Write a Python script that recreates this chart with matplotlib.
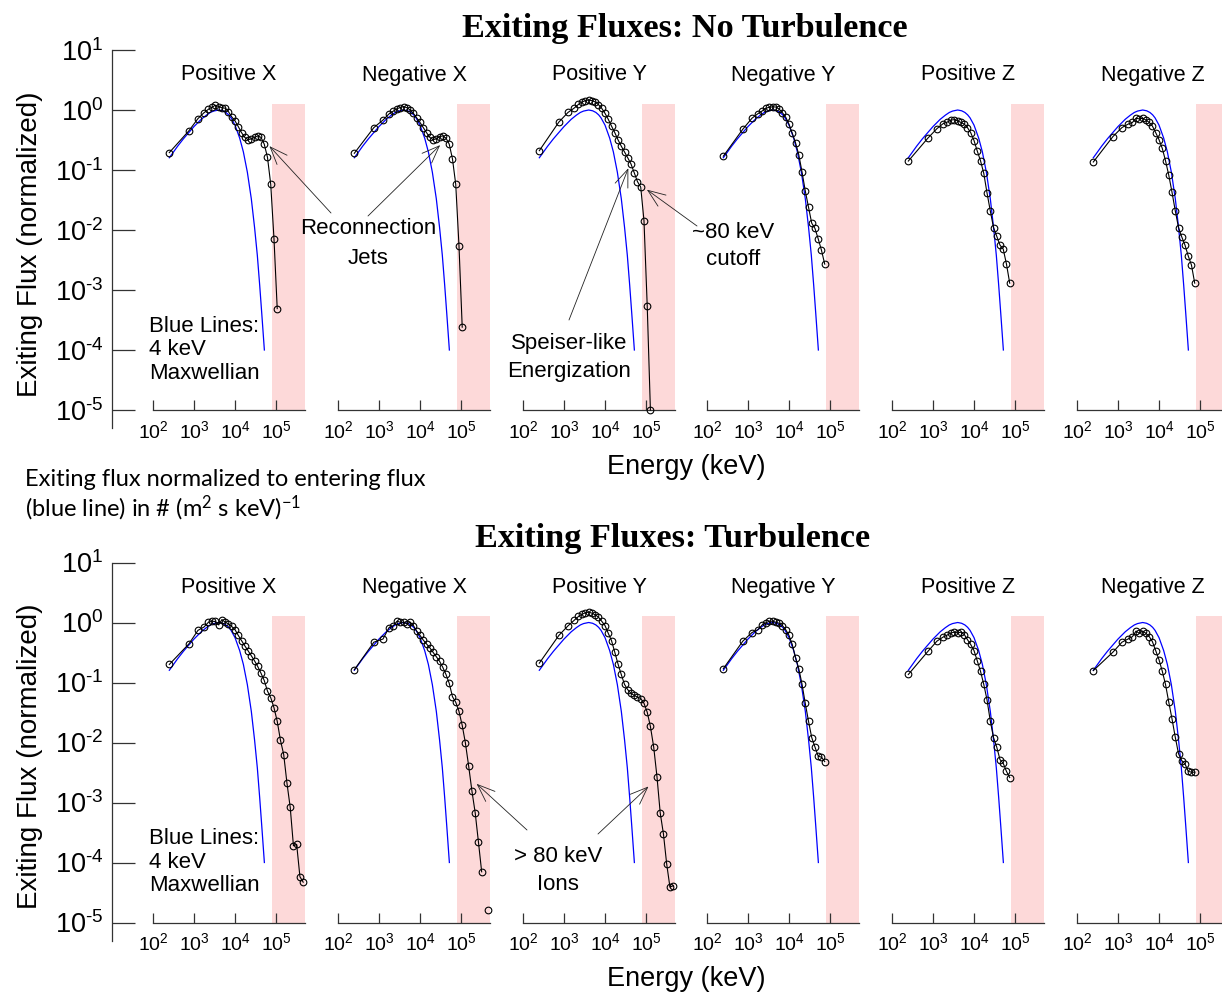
import matplotlib
matplotlib.use("Agg")
import matplotlib.pyplot as plt
from matplotlib.ticker import NullLocator

plt.rcParams['font.family'] = ['Liberation Sans', 'DejaVu Sans']
plt.rcParams['mathtext.default'] = 'regular'

# ---- data ---------------------------------------------------------------
# energy bins shared by every panel (eV, plotted against the keV axis)
energy_bins = [250, 750, 1250, 1750, 2250, 2750, 3300, 4000, 4800, 5800,
               6900, 8300, 10000, 12000, 14400, 17300, 20700, 24900, 29900,
               35800, 43000, 51600, 61900, 74300, 89200, 107000, 128000,
               154000, 185000, 222000, 266000, 319000, 383000, 460000]

# entering 4 keV Maxwellian (blue line)
maxwell_e = [250, 300, 400, 550, 700, 1000, 1500, 2000, 2500, 3000, 4000,
             5000, 6000, 7000, 8000, 10000, 13000, 16000, 20000, 25000,
             30000, 35000, 40000, 45000, 52000]
maxwell_f = [0.16, 0.19, 0.25, 0.33, 0.40, 0.53, 0.70, 0.82, 0.91, 0.96, 1.0,
             0.97, 0.91, 0.83, 0.74, 0.56, 0.34, 0.20, 0.092, 0.033,
             0.011, 0.0038, 0.0012, 0.0004, 0.0001]

panel_names = ['Positive X', 'Negative X', 'Positive Y',
               'Negative Y', 'Positive Z', 'Negative Z']

# exiting fluxes, no turbulence
nt_pos_x = [0.195, 0.45, 0.72, 0.90, 1.03, 1.11, 1.2, 1.14, 1.09, 1.07, 0.94,
            0.77, 0.66, 0.53, 0.42, 0.35, 0.32, 0.33, 0.35, 0.37, 0.35, 0.27,
            0.163, 0.058, 0.0072, 0.00049]
nt_neg_x = [0.19, 0.51, 0.68, 0.86, 0.96, 1.05, 1.1, 1.14, 1.09, 1.0, 0.88,
            0.74, 0.62, 0.51, 0.42, 0.35, 0.32, 0.33, 0.36, 0.37, 0.34, 0.27,
            0.153, 0.058, 0.0055, 0.00024]
nt_pos_y = [0.21, 0.63, 0.91, 1.07, 1.24, 1.36, 1.43, 1.47, 1.43, 1.36, 1.23,
            1.07, 0.88, 0.70, 0.54, 0.42, 0.32, 0.25, 0.20, 0.16, 0.126, 0.09,
            0.064, 0.052, 0.0143, 0.00055, 0.00001]
nt_neg_y = [0.17, 0.48, 0.73, 0.87, 0.97, 1.07, 1.11, 1.13, 1.12, 1.03, 0.90,
            0.76, 0.58, 0.41, 0.285, 0.18, 0.094, 0.045, 0.024, 0.013, 0.0106,
            0.0071, 0.0046, 0.0027]
nt_pos_z = [0.141, 0.34, 0.49, 0.59, 0.63, 0.68, 0.69, 0.66, 0.62, 0.58, 0.51,
            0.42, 0.31, 0.207, 0.143, 0.088, 0.042, 0.021, 0.011, 0.0079,
            0.0056, 0.0048, 0.0027, 0.0013]
nt_neg_z = [0.136, 0.36, 0.51, 0.58, 0.62, 0.73, 0.71, 0.73, 0.68, 0.62, 0.54,
            0.42, 0.32, 0.23, 0.143, 0.082, 0.043, 0.021, 0.011, 0.0077,
            0.0056, 0.0037, 0.0026, 0.0013]

# exiting fluxes, turbulence
t_pos_x = [0.2, 0.44, 0.74, 0.84, 1.01, 1.05, 1.04, 0.91, 1.12, 1.01, 0.95,
           0.86, 0.76, 0.61, 0.50, 0.41, 0.34, 0.28, 0.23, 0.185, 0.143, 0.108,
           0.072, 0.056, 0.038, 0.0226, 0.011, 0.0063, 0.0021, 0.00083,
           0.00019, 0.0002, 0.000058, 0.000047]
t_neg_x = [0.163, 0.47, 0.53, 0.82, 0.89, 1.05, 1.01, 1.01, 0.95, 1.01, 0.89,
           0.72, 0.61, 0.51, 0.44, 0.38, 0.32, 0.27, 0.227, 0.18, 0.136, 0.097,
           0.058, 0.047, 0.033, 0.0193, 0.0098, 0.0040, 0.00154, 0.00067,
           0.00022, 0.00007, float('nan'), 0.000016]
t_pos_y = [0.21, 0.61, 0.88, 1.08, 1.26, 1.37, 1.45, 1.49, 1.43, 1.34, 1.23,
           1.05, 0.89, 0.66, 0.50, 0.32, 0.205, 0.136, 0.093, 0.076, 0.066,
           0.061, 0.057, 0.054, 0.045, 0.032, 0.0185, 0.0084, 0.0027, 0.00067,
           0.0003, 0.000095, 0.000039, 0.000041]
t_neg_y = [0.17, 0.49, 0.68, 0.76, 0.92, 0.99, 1.05, 1.05, 1.01, 0.97, 0.89,
           0.76, 0.61, 0.43, 0.26, 0.17, 0.095, 0.045, 0.0226, 0.0121, 0.0084,
           0.0059, 0.0057, 0.0048]
t_pos_z = [0.136, 0.33, 0.49, 0.57, 0.62, 0.67, 0.69, 0.67, 0.69, 0.63, 0.52,
           0.43, 0.34, 0.23, 0.154, 0.093, 0.052, 0.023, 0.0121, 0.0084,
           0.0052, 0.0045, 0.0033, 0.0026]
t_neg_z = [0.158, 0.32, 0.47, 0.53, 0.58, 0.72, 0.66, 0.72, 0.66, 0.58, 0.48,
           0.34, 0.24, 0.155, 0.093, 0.047, 0.025, 0.0123, 0.0065, 0.0050,
           0.0044, 0.0033, 0.0032, 0.0032]

cutoff = 8e4        # ~80 keV, start of the shaded band
shade_top = 1.26

# ---- layout (pixel coordinates of the 1222x994 canvas) -----------------
W, H = 1222, 994
PINK = '#fdd9d9'
panel_lefts = [153, 338, 523, 707, 892, 1077]
panel_w = 152
xmax = 10 ** 5.707


def rect(x0, y0, x1, y1):
    return [x0 / W, 1 - y1 / H, (x1 - x0) / W, (y1 - y0) / H]


def fxy(x, y):
    return (x / W, 1 - y / H)


def pow_label(k):
    # short hyphen for negative exponents
    return '$10^{%s}$' % (str(k) if k >= 0 else '\u2010' + str(-k))


fig = plt.figure(figsize=(W / 100, H / 100), dpi=100)

rows = [
    dict(title='Exiting Fluxes: No Turbulence', top=50, title_y=28, title_x=685,
         fluxes=[nt_pos_x, nt_neg_x, nt_pos_y, nt_neg_y, nt_pos_z, nt_neg_z]),
    dict(title='Exiting Fluxes: Turbulence', top=562.5, title_y=539, title_x=673,
         fluxes=[t_pos_x, t_neg_x, t_pos_y, t_neg_y, t_pos_z, t_neg_z]),
]

row_axes = []
for row in rows:
    top = row['top']
    bot = top + 360

    # shared y axis on the left
    yax = fig.add_axes(rect(112, top, 140, bot + 18))
    yax.patch.set_visible(False)
    yax.set_yscale('log')
    yax.set_ylim(10 ** -5.3, 10)
    yax.set_yticks([10.0 ** k for k in range(-5, 2)])
    yax.set_yticklabels([pow_label(k) for k in range(-5, 2)])
    yax.yaxis.set_minor_locator(NullLocator())
    yax.set_xticks([])
    for s in ['top', 'right', 'bottom']:
        yax.spines[s].set_visible(False)
    yax.spines['left'].set_linewidth(0.9)
    yax.spines['left'].set_color('#333333')
    yax.tick_params(axis='y', direction='in', length=16.6, width=0.9,
                    color='#333333', labelsize=19.5, pad=6)

    axes = []
    for x0, name, flux in zip(panel_lefts, panel_names, row['fluxes']):
        ax = fig.add_axes(rect(x0, top, x0 + panel_w, bot))
        ax.patch.set_visible(False)
        ax.set_xscale('log')
        ax.set_yscale('log')
        ax.set_xlim(100, xmax)
        ax.set_ylim(1e-5, 10)
        ax.fill_between([cutoff, xmax], 1e-5, shade_top, color=PINK, lw=0,
                        zorder=0)
        ax.plot(maxwell_e, maxwell_f, color='#0000ff', lw=0.9, zorder=2)
        ax.plot(energy_bins[:len(flux)], flux, color='k', lw=0.8, marker='o',
                ms=4.8, mfc='none', mec='k', mew=0.8, zorder=3, clip_on=False)
        ax.set_xticks([1e2, 1e3, 1e4, 1e5])
        ax.set_xticklabels([pow_label(k) for k in range(2, 6)])
        ax.xaxis.set_minor_locator(NullLocator())
        ax.set_yticks([])
        ax.yaxis.set_minor_locator(NullLocator())
        for s in ['top', 'right', 'left']:
            ax.spines[s].set_visible(False)
        ax.spines['bottom'].set_linewidth(0.9)
        ax.spines['bottom'].set_color('#333333')
        ax.tick_params(axis='x', direction='in', length=7.2, width=0.9,
                       color='#333333', labelsize=14, pad=7)
        ax.text(0.5, (bot - (top + 25)) / 360, name, transform=ax.transAxes,
                ha='center', va='center', fontsize=15.5)
        axes.append(ax)
    row_axes.append(axes)

    fig.text(*fxy(row['title_x'], row['title_y']), row['title'],
             ha='center', va='center', fontsize=24.7, fontweight='bold',
             family='Liberation Serif')
    fig.text(*fxy(686, bot + 57), 'Energy (keV)', ha='center', va='center',
             fontsize=19.5)
    fig.text(*fxy(30, top + 194), 'Exiting Flux (normalized)', rotation=90,
             ha='center', va='center', fontsize=20)

    # legend note for the blue curve
    for dy, s in zip([0, 23.5, 47], ['Blue Lines:', '4 keV', 'Maxwellian']):
        fig.text(*fxy(149, top + 276 + dy), s, ha='left', va='center',
                 fontsize=16)


def note(x, y, s):
    fig.text(*fxy(x, y), s, ha='center', va='center', fontsize=16)


def arrow(ax, xy, start):
    ax.annotate('', xy=xy, xycoords='data', xytext=fxy(*start),
                textcoords='figure fraction',
                arrowprops=dict(arrowstyle='->,head_length=0.9,head_width=0.35',
                                lw=0.6, color='#222222', shrinkA=0, shrinkB=0,
                                mutation_scale=14))


top_axes, bot_axes = row_axes

note(368, 229, 'Reconnection')
note(368, 258, 'Jets')
arrow(top_axes[0], (6.9e4, 0.25), (331, 213))
arrow(top_axes[1], (3.1e4, 0.26), (368, 216))

note(569, 343, 'Speiser-like')
note(569, 372, 'Energization')
arrow(top_axes[2], (3.7e4, 0.107), (569, 320))

note(733, 232, '~80 keV')
note(733, 260, 'cutoff')
arrow(top_axes[2], (1.05e5, 0.047), (697, 226))

note(558, 857, '> 80 keV')
note(558, 884, 'Ions')
arrow(bot_axes[1], (2.4e5, 2.05e-3), (527, 830))
arrow(bot_axes[2], (1.15e5, 1.85e-3), (598, 834))

fig.text(*fxy(25, 479), 'Exiting flux normalized to entering flux',
         ha='left', va='center', fontsize=17, family=['Lato', 'DejaVu Sans'])
fig.text(*fxy(25, 508), '(blue line) in # (m$^{2}$ s keV)$^{-1}$',
         ha='left', va='center', fontsize=17, family=['Lato', 'DejaVu Sans'])

fig.savefig('out.png', dpi=100)
